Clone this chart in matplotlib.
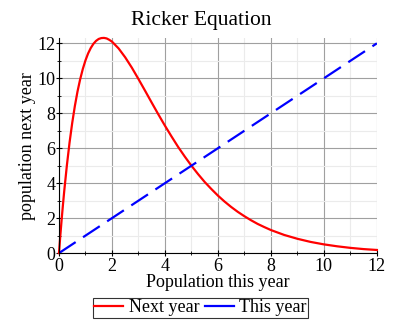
import matplotlib.pyplot as plt
from matplotlib.ticker import MultipleLocator

# population this year and next year (Ricker curve)
pop_now = [0, 0.05, 0.1, 0.15, 0.2, 0.3, 0.4, 0.5, 0.6, 0.7, 0.8, 0.9, 1.0,
           1.1, 1.2, 1.3, 1.4, 1.5, 1.6, 1.7, 1.8, 1.9, 2.0, 2.25, 2.5, 2.75,
           3.0, 3.25, 3.5, 3.75, 4.0, 4.25, 4.5, 4.75, 5.0, 5.25, 5.5, 5.75,
           6.0, 6.25, 6.5, 6.75, 7.0, 7.25, 7.5, 7.75, 8.0, 8.5, 9.0, 9.5,
           10.0, 10.5, 11.0, 11.5, 12.0]
pop_next = [0, 0.97, 1.89, 2.75, 3.56, 5.03, 6.32, 7.44, 8.41, 9.24, 9.94,
            10.53, 11.02, 11.42, 11.73, 11.97, 12.14, 12.25, 12.30, 12.31,
            12.28, 12.20, 12.10, 11.71, 11.20, 10.61, 9.96, 9.29, 8.61, 7.94,
            7.29, 6.67, 6.07, 5.52, 5.00, 4.52, 4.07, 3.67, 3.29, 2.95, 2.64,
            2.36, 2.11, 1.88, 1.67, 1.49, 1.32, 1.04, 0.82, 0.64, 0.50, 0.39,
            0.30, 0.23, 0.18]
diag_x = [0, 12]
diag_y = [0, 12]

plt.rcParams['font.family'] = ['Liberation Serif', 'DejaVu Serif']

fig = plt.figure(figsize=(3.93, 3.2), dpi=100)
ax = fig.add_axes([0.150, 0.209, 0.809, 0.672])

ax.plot(pop_now, pop_next, color='red', lw=1.6, label='Next year', clip_on=False)
ax.plot(diag_x, diag_y, color='blue', lw=1.6, dashes=(9, 4), label='This year')

ax.set_xlim(0, 12)
ax.set_ylim(0, 12.3)
ax.xaxis.set_major_locator(MultipleLocator(2))
ax.xaxis.set_minor_locator(MultipleLocator(1))
ax.yaxis.set_major_locator(MultipleLocator(2))
ax.yaxis.set_minor_locator(MultipleLocator(1))
ax.grid(which='major', color='#a0a0a0', lw=0.8)
ax.grid(which='minor', color='#ebebeb', lw=0.8)
ax.set_axisbelow(True)
for s in ['top', 'right']:
    ax.spines[s].set_visible(False)
ax.tick_params(which='major', length=5, labelsize=13, direction='inout')
ax.tick_params(axis='x', pad=1)
ax.tick_params(axis='y', pad=0)
ax.tick_params(which='minor', length=3, direction='inout')

fig.text(0.512, 0.937, 'Ricker Equation', fontsize=15.5, ha='center', va='center')
ax.set_xlabel('Population this year', fontsize=13, labelpad=-1)
ax.set_ylabel('population next year', fontsize=13, labelpad=1)

leg = fig.legend(loc='upper center', bbox_to_anchor=(0.51, 0.07), ncol=2,
                 fontsize=13, frameon=True, fancybox=False, handlelength=1.6,
                 handletextpad=0.3, columnspacing=0.3, borderpad=0.1,
                 borderaxespad=0)
leg.get_frame().set_edgecolor('black')
leg.get_frame().set_linewidth(0.8)
leg.get_lines()[1].set_linestyle('-')

fig.savefig('out.png', dpi=100)
